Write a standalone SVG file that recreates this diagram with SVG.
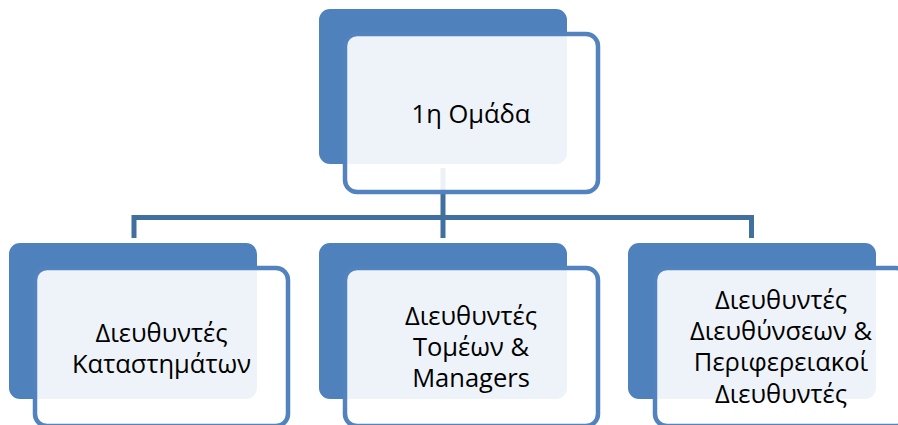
<svg xmlns="http://www.w3.org/2000/svg" width="898" height="425" viewBox="0 0 898 425">
  <style>
    .back { fill: #4F81BD; }
    .front { fill: #FFFFFF; fill-opacity: 0.9; stroke: #5283BF; stroke-width: 4.5; }
    .link { fill: none; stroke: #41709F; stroke-width: 5; stroke-linejoin: miter; }
    .label { font-family: "Open Sans", "Noto Sans", sans-serif; font-size: 25.5px; fill: #000000; text-anchor: middle; }
  </style>
  <rect width="898" height="425" fill="#FFFFFF"/>

  <!-- tree connectors -->
  <g id="connectors">
    <path class="link" d="M443 168 V218"/>
    <path class="link" d="M134 238 V217.5 H751.5 V238"/>
    <path class="link" d="M443 217.5 V238"/>
  </g>

  <!-- root -->
  <g id="node-root">
    <rect class="back" x="319" y="9" width="248" height="155" rx="11"/>
    <rect class="front" x="345" y="34" width="253" height="158" rx="12"/>
    <text class="label" x="471" y="123">1η Ομάδα</text>
  </g>

  <!-- children -->
  <g id="node-stores">
    <rect class="back" x="9" y="243" width="248" height="156" rx="11"/>
    <rect class="front" x="35" y="268" width="253" height="158" rx="12"/>
    <text class="label" x="161.5" y="342">Διευθυντές</text>
    <text class="label" x="161.5" y="373">Καταστημάτων</text>
  </g>

  <g id="node-sectors">
    <rect class="back" x="319" y="243" width="248" height="156" rx="11"/>
    <rect class="front" x="345" y="268" width="253" height="158" rx="12"/>
    <text class="label" x="471" y="325">Διευθυντές</text>
    <text class="label" x="471" y="356">Τομέων &amp;</text>
    <text class="label" x="471" y="387">Managers</text>
  </g>

  <g id="node-regional">
    <rect class="back" x="628" y="243" width="248" height="156" rx="11"/>
    <rect class="front" x="655" y="268" width="253" height="158" rx="12"/>
    <text class="label" x="781" y="309">Διευθυντές</text>
    <text class="label" x="781" y="340">Διευθύνσεων &amp;</text>
    <text class="label" x="781" y="371">Περιφερειακοί</text>
    <text class="label" x="781" y="403">Διευθυντές</text>
  </g>
</svg>
